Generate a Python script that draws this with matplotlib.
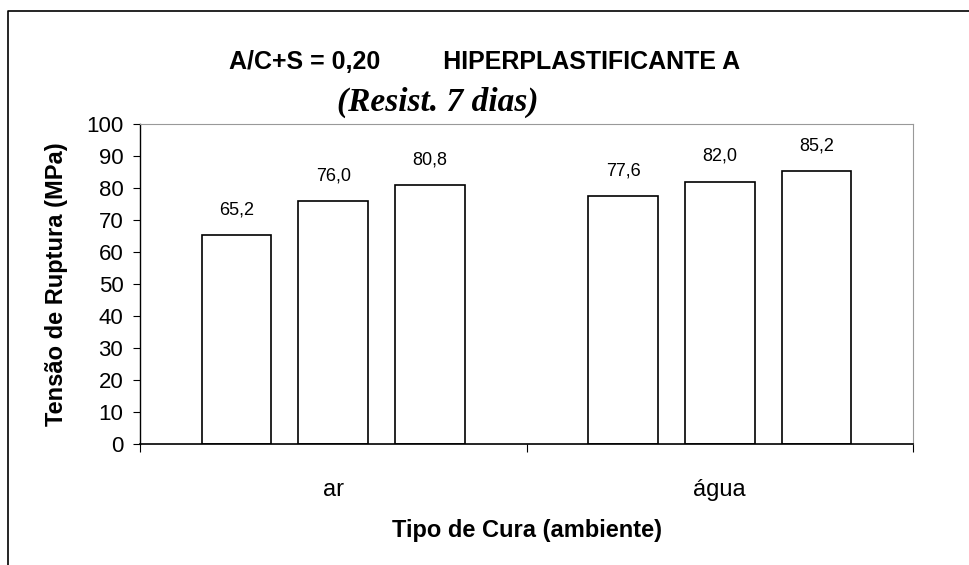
import numpy as np
import matplotlib.pyplot as plt
from matplotlib.lines import Line2D

# data
categorias = ["ar", "água"]
serie1 = [65.2, 77.6]
serie2 = [76.0, 82.0]
serie3 = [80.8, 85.2]
rotulos = [["65,2", "77,6"], ["76,0", "82,0"], ["80,8", "85,2"]]

plt.rcParams['font.family'] = ['Liberation Sans', 'DejaVu Sans']

fig = plt.figure(figsize=(9.69, 5.65), dpi=100)
ax = fig.add_axes([0.1445, 0.2142, 0.7977, 0.5663])

x = np.arange(len(categorias))
larg = 0.18
for k, (vals, labs) in enumerate(zip([serie1, serie2, serie3], rotulos)):
    pos = x + (k - 1) * 0.25
    ax.bar(pos, vals, width=larg, color="white", edgecolor="black", linewidth=1.2)
    for p, v, t in zip(pos, vals, labs):
        ax.annotate(t, (p, v), xytext=(0, 12), textcoords="offset points",
                    ha="center", va="bottom", fontsize=13)

ax.set_xlim(-0.5, 1.5)
ax.set_ylim(0, 100)
ax.set_yticks(np.arange(0, 101, 10))
ax.tick_params(axis="y", labelsize=16, length=5, direction="out", pad=7)
ax.set_xticks([-0.5, 0.5, 1.5])
ax.set_xticklabels([])
ax.tick_params(axis="x", length=6, direction="out")
ax.set_xticks(x, minor=True)
ax.set_xticklabels(categorias, minor=True, fontsize=17)
ax.tick_params(axis="x", which="minor", length=0, pad=25)

for s in ["top", "right"]:
    ax.spines[s].set_color("#999999")
    ax.spines[s].set_linewidth(0.8)
ax.spines["left"].set_linewidth(1.0)
ax.spines["bottom"].set_linewidth(1.2)

ax.set_ylabel("Tensão de Ruptura (MPa)", fontsize=17, fontweight="bold")
ax.yaxis.set_label_coords(-0.093, 0.5)
ax.set_xlabel("Tipo de Cura (ambiente)", fontsize=17, fontweight="bold")
ax.xaxis.set_label_coords(0.5, -0.235)

fig.text(0.50, 0.89, "A/C+S = 0,20         HIPERPLASTIFICANTE A", ha="center", va="center",
         fontsize=18, fontweight="bold")
fig.text(0.452, 0.818, "(Resist. 7 dias)", ha="center", va="center", fontsize=24,
         fontweight="bold", fontstyle="italic", family="Liberation Serif")

# outer frame (only left and top edges visible in the picture)
fig.add_artist(Line2D([8 / 969, 8 / 969, 1.0], [0.0, 1 - 11 / 565, 1 - 11 / 565],
                      transform=fig.transFigure, color="black", linewidth=1.2))

fig.savefig("out.png", dpi=100)
